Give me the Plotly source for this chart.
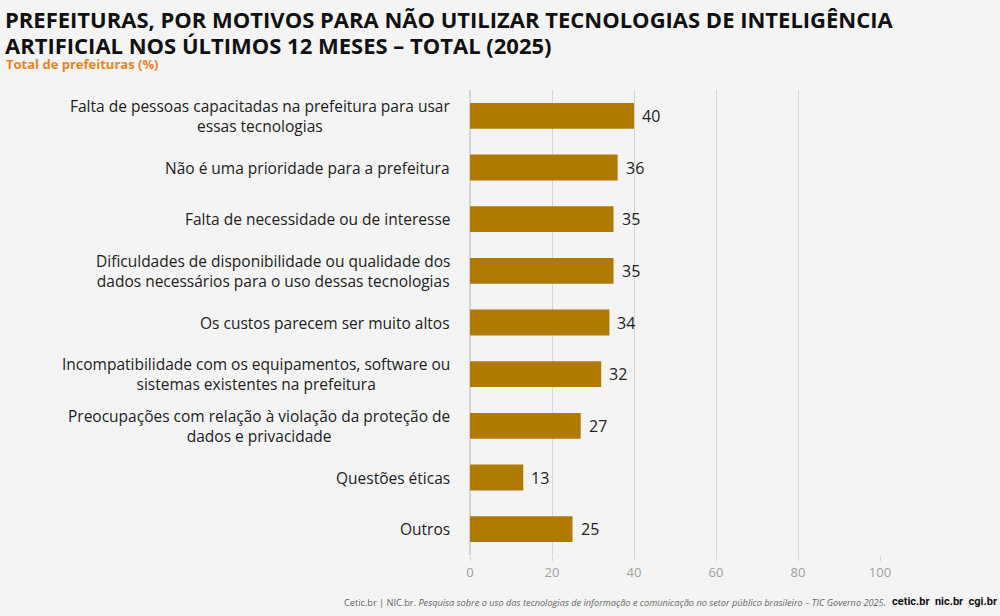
import plotly.graph_objects as go

categories = [
    "Falta de pessoas capacitadas na prefeitura para usar<br>essas tecnologias",
    "Não é uma prioridade para a prefeitura",
    "Falta de necessidade ou de interesse",
    "Dificuldades de disponibilidade ou qualidade dos<br>dados necessários para o uso dessas tecnologias",
    "Os custos parecem ser muito altos",
    "Incompatibilidade com os equipamentos, software ou<br>sistemas existentes na prefeitura",
    "Preocupações com relação à violação da proteção de<br>dados e privacidade",
    "Questões éticas",
    "Outros",
]
values = [40, 36, 35, 35, 34, 32, 27, 13, 25]
x_ticks = [0, 20, 40, 60, 80, 100]

BG = "#f4f4f4"
BAR = "#b07a00"
FONT = "Open Sans, Noto Sans, sans-serif"
PW = 410  # plot width px
PH = 465  # plot height px
T = 90    # top margin px

fig = go.Figure(go.Bar(
    x=values, y=categories, orientation="h",
    marker=dict(color=BAR, line=dict(width=0)),
    width=0.5, hoverinfo="x+y",
))

fig.update_layout(
    width=1000, height=616,
    paper_bgcolor=BG, plot_bgcolor=BG,
    margin=dict(l=470, r=120, t=T, b=61),
    showlegend=False,
    font=dict(family=FONT, color="#222222"),
    xaxis=dict(range=[0, 100], tickvals=x_ticks, showgrid=True,
               gridcolor="#d6d6d6", gridwidth=1, zeroline=True,
               zerolinecolor="#d6d6d6", ticks="outside", ticklen=5,
               tickcolor="#d6d6d6", tickfont=dict(size=13, color="#a0a0a0"),
               showline=False),
    yaxis=dict(autorange="reversed", showgrid=False, ticks="",
               showticklabels=False),
)


def py(pix):
    """paper y for a pixel row measured from the top of the page"""
    return 1 + (T - pix) / PH


def px(pix):
    return (pix - 470) / PW


# category labels (centered multi-line, right edge near bars)
for c in categories:
    fig.add_annotation(
        text=c, xref="paper", yref="y", x=px(452), y=c,
        xanchor="right", yanchor="middle", align="center", showarrow=False,
        font=dict(size=15.5, color="#222222", family=FONT),
    )

# value labels
for c, v in zip(categories, values):
    fig.add_annotation(
        text=str(v), xref="x", yref="y", x=v, y=c, xanchor="left",
        yanchor="middle", xshift=6, showarrow=False,
        font=dict(size=16, color="#222222", family=FONT),
    )

title_lines = [
    "PREFEITURAS, POR MOTIVOS PARA NÃO UTILIZAR TECNOLOGIAS DE INTELIGÊNCIA",
    "ARTIFICIAL NOS ÚLTIMOS 12 MESES – TOTAL (2025)",
]
for line, yc in zip(title_lines, [19, 45]):
    fig.add_annotation(
        text=f"<b>{line}</b>", xref="paper", yref="paper", x=px(4), y=py(yc),
        xanchor="left", yanchor="middle", align="left", showarrow=False,
        borderpad=0, font=dict(size=22, color="#111111", family=FONT),
    )
fig.add_annotation(
    text="<b>Total de prefeituras (%)</b>",
    xref="paper", yref="paper", x=px(5), y=py(64), xanchor="left", yanchor="middle",
    borderpad=0, showarrow=False, font=dict(size=13, color="#f0821e", family=FONT),
)
fig.add_annotation(
    text="Cetic.br | NIC.br. <i>Pesquisa sobre o uso das tecnologias de informação e comunicação no setor público brasileiro – TIC Governo 2025.</i>",
    xref="paper", yref="paper", x=px(887), y=py(602), xanchor="right", yanchor="middle",
    showarrow=False, borderpad=0, font=dict(size=9.2, color="#666666", family=FONT),
)
fig.add_annotation(
    text="<b>cetic.br&nbsp;&nbsp;nic.br&nbsp;&nbsp;cgi.br</b>",
    xref="paper", yref="paper", x=px(998), y=py(601),
    xanchor="right", yanchor="middle", showarrow=False, borderpad=0,
    font=dict(size=11, color="#111111", family="Roboto, sans-serif"),
)

fig.write_html("out.html")
